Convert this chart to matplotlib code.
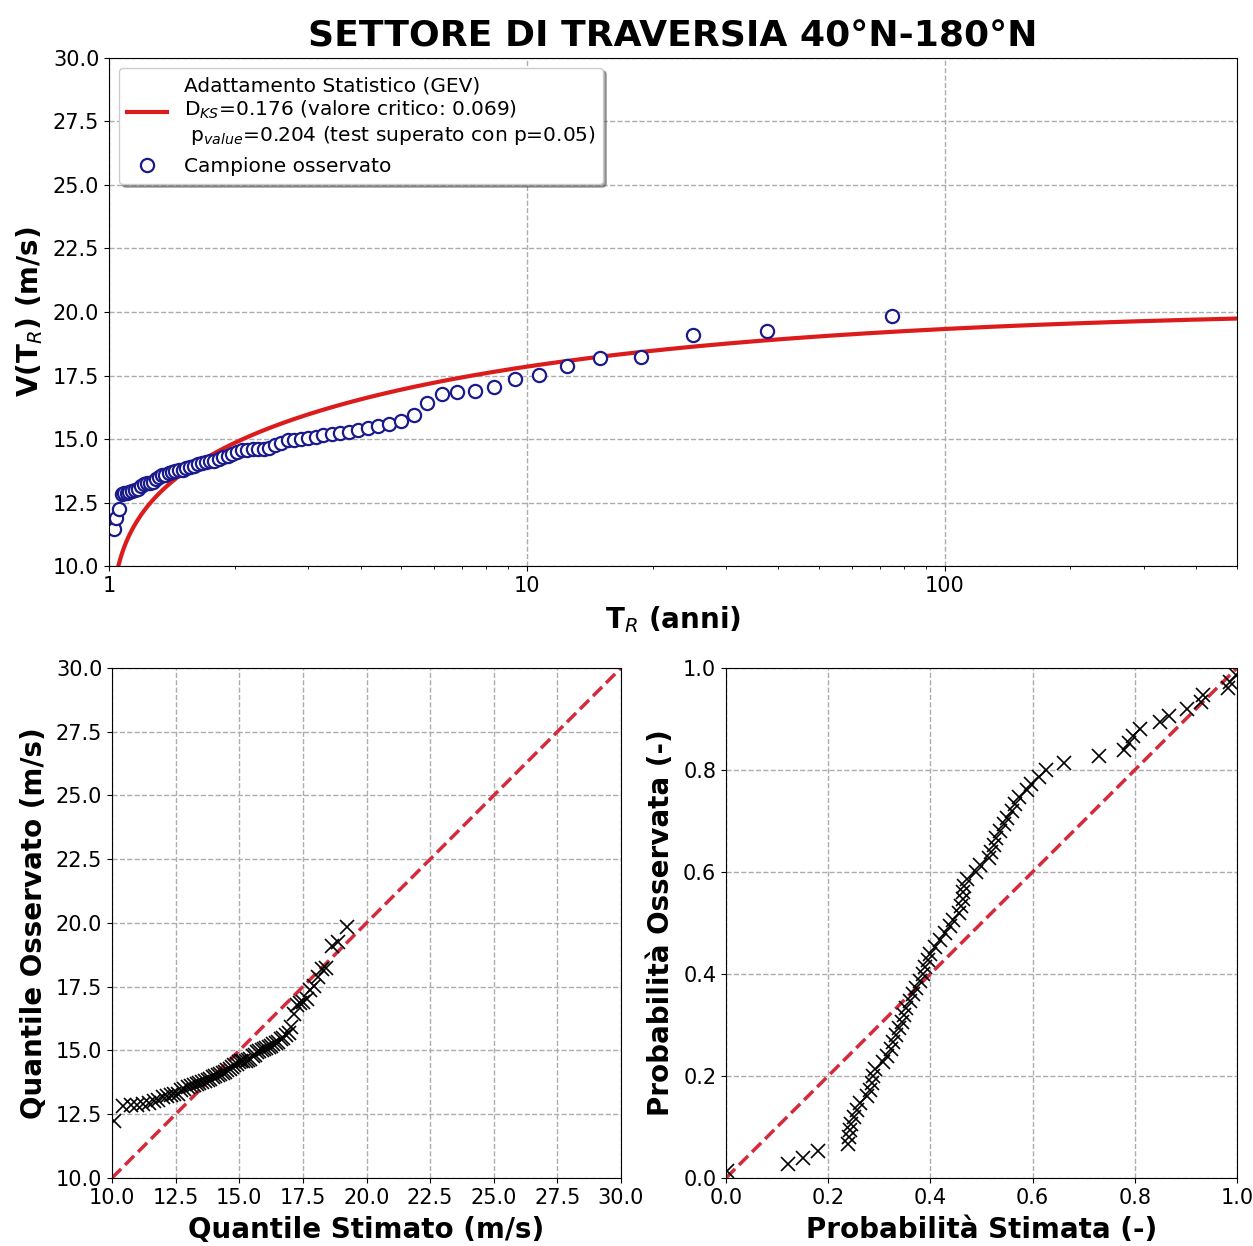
# Analisi estremi vento - settore di traversia 40N-180N
# adattamento GEV, curva V(TR), Q-Q plot e P-P plot

import numpy as np
import matplotlib
matplotlib.use("Agg")
import matplotlib.pyplot as plt
import matplotlib.ticker as ticker

###################################
# campione osservato (massimi annuali, m/s) ordinato in senso crescente
# il primo valore cade sotto il limite dell'asse (10 m/s)
v_oss = np.array([
    5.50, 11.45, 11.88, 12.23, 12.83, 12.86, 12.88, 12.90, 12.95, 13.00,
    13.05, 13.17, 13.22, 13.26, 13.28, 13.30, 13.44, 13.50, 13.57, 13.60,
    13.65, 13.69, 13.73, 13.77, 13.80, 13.85, 13.90, 13.95, 14.00, 14.05,
    14.08, 14.12, 14.14, 14.22, 14.29, 14.35, 14.42, 14.47, 14.55, 14.58,
    14.60, 14.60, 14.61, 14.65, 14.78, 14.83, 14.95, 14.97, 15.01, 15.04,
    15.09, 15.15, 15.18, 15.25, 15.29, 15.35, 15.45, 15.50, 15.60, 15.70,
    15.93, 16.42, 16.78, 16.86, 16.91, 17.03, 17.36, 17.52, 17.88, 18.20,
    18.24, 19.10, 19.24, 19.83,
])

# parametri GEV stimati (posizione, scala, forma)
gev_mu = 13.914
gev_sigma = 2.768
gev_k = 0.445

# test di Kolmogorov-Smirnov
d_ks = 0.176
d_crit = 0.069
p_value = 0.204
alpha_test = 0.05

titolo = "SETTORE DI TRAVERSIA 40°N-180°N"

###################################
def gev_ppf(F):
    return gev_mu + gev_sigma/gev_k*(1.0 - (-np.log(F))**gev_k)

def gev_cdf(v):
    z = 1.0 - gev_k*(v - gev_mu)/gev_sigma
    z = np.clip(z, 1e-12, None)
    return np.exp(-z**(1.0/gev_k))

n = len(v_oss)
rank = np.arange(1, n+1)
# posizione di Weibull
F_emp = rank/(n+1.0)
T_emp = 1.0/(1.0 - F_emp)

T_curve = np.logspace(0.0005, np.log10(500), 600)
V_curve = gev_ppf(1.0 - 1.0/T_curve)

q_stim = gev_ppf(F_emp)
p_stim = gev_cdf(v_oss)

print(T_emp[-5:])

###################################
fig = plt.figure(figsize=(12.53, 12.46), dpi=100)

ax1 = fig.add_axes([0.087, 0.5457, 0.900, 0.4078])
ax2 = fig.add_axes([0.0894, 0.0546, 0.4062, 0.4093])
ax3 = fig.add_axes([0.5794, 0.0546, 0.4078, 0.4093])

grid_kw = dict(linestyle="--", color="0.68", linewidth=1.0)
fs_lab = 20
fs_tick = 15

# curva V(TR)
lab_fit = ("Adattamento Statistico (GEV)\n"
           f"D$_{{KS}}$={d_ks:.3f} (valore critico: {d_crit:.3f})\n"
           f" p$_{{value}}$={p_value:.3f} (test superato con p={alpha_test:.2f})")
ax1.plot(T_curve, V_curve, color="#dc1c1c", linewidth=3, label=lab_fit)
ax1.plot(T_emp, v_oss, "o", markersize=9.5, markerfacecolor="white",
         markeredgecolor="#1a1a8c", markeredgewidth=1.6, linestyle="none",
         label="Campione osservato")
ax1.set_xscale("log")
ax1.set_xlim(1, 500)
ax1.set_ylim(10, 30)
ax1.yaxis.set_major_locator(ticker.MultipleLocator(2.5))
ax1.xaxis.set_major_formatter(ticker.FuncFormatter(lambda x, pos: f"{x:g}"))
ax1.grid(True, which="major", **grid_kw)
ax1.set_xlabel("T$_R$ (anni)", fontsize=fs_lab, fontweight="bold", labelpad=6)
ax1.set_ylabel("V(T$_R$) (m/s)", fontsize=fs_lab, fontweight="bold", labelpad=6)
ax1.set_title(titolo, fontsize=26, fontweight="bold", pad=8)
ax1.tick_params(labelsize=fs_tick)
ax1.legend(loc="upper left", fontsize=14.5, shadow=True, framealpha=1)

# Q-Q plot
ax2.plot([10, 30], [10, 30], "--", color="#d42a3c", linewidth=2.5)
ax2.plot(q_stim, v_oss, "x", color="black", markersize=10, markeredgewidth=1.2)
ax2.set_xlim(10, 30)
ax2.set_ylim(10, 30)
ax2.xaxis.set_major_locator(ticker.MultipleLocator(2.5))
ax2.yaxis.set_major_locator(ticker.MultipleLocator(2.5))
ax2.grid(True, **grid_kw)
ax2.set_xlabel("Quantile Stimato (m/s)", fontsize=fs_lab, fontweight="bold", labelpad=6)
ax2.set_ylabel("Quantile Osservato (m/s)", fontsize=fs_lab, fontweight="bold", labelpad=6)
ax2.tick_params(labelsize=fs_tick)

# P-P plot
ax3.plot([0, 1], [0, 1], "--", color="#d42a3c", linewidth=2.5)
ax3.plot(p_stim, F_emp, "x", color="black", markersize=10, markeredgewidth=1.2)
ax3.set_xlim(0, 1)
ax3.set_ylim(0, 1)
ax3.xaxis.set_major_locator(ticker.MultipleLocator(0.2))
ax3.yaxis.set_major_locator(ticker.MultipleLocator(0.2))
ax3.grid(True, **grid_kw)
ax3.set_xlabel("Probabilità Stimata (-)", fontsize=fs_lab, fontweight="bold", labelpad=6)
ax3.set_ylabel("Probabilità Osservata (-)", fontsize=fs_lab, fontweight="bold", labelpad=6)
ax3.tick_params(labelsize=fs_tick)

plt.savefig("out.png", dpi=100)
